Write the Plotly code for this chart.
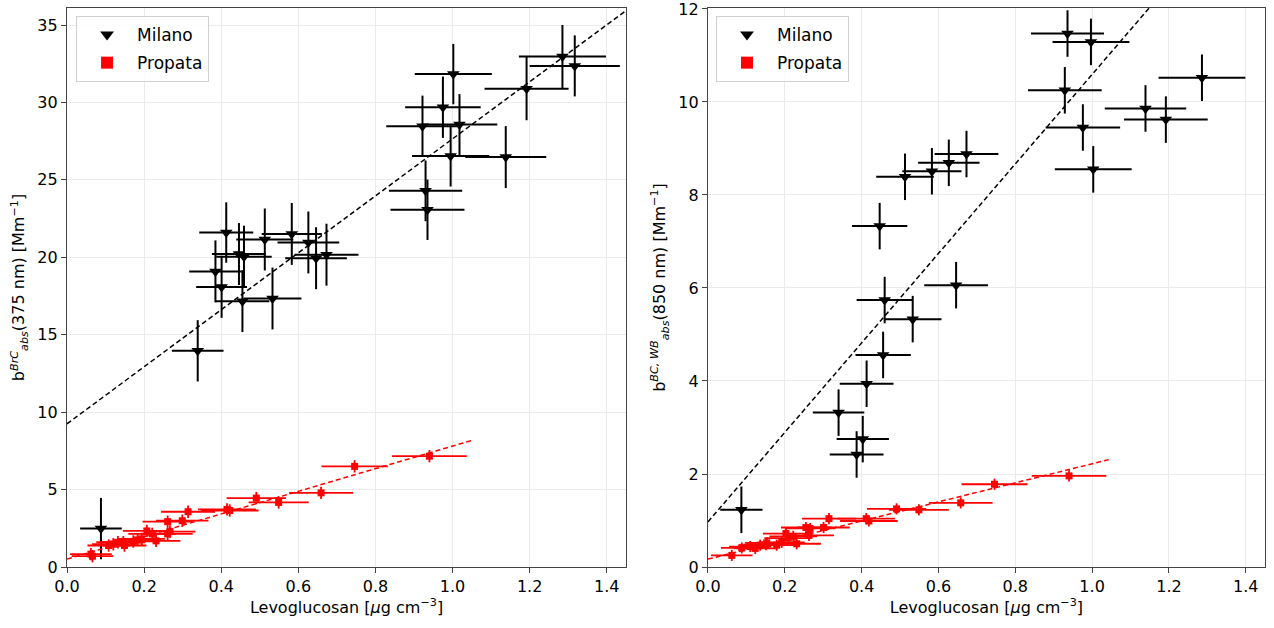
import numpy as np
import plotly.graph_objects as go

# ---------------- data: left panel (BrC 375 nm) ----------------
mil_L_x = [0.088, 0.339, 0.385, 0.401, 0.413, 0.446, 0.459, 0.455, 0.513, 0.533, 0.583, 0.626, 0.646,
           0.673, 0.922, 0.930, 0.935, 0.975, 0.995, 1.002, 1.018, 1.138, 1.192, 1.285, 1.317]
mil_L_y = [2.48, 13.96, 19.09, 18.09, 21.60, 20.21, 20.04, 17.17, 21.15, 17.34, 21.51, 20.96, 19.94,
           20.17, 28.46, 24.29, 23.07, 29.69, 26.54, 31.83, 28.57, 26.47, 30.89, 32.96, 32.36]
mil_L_xerr = [0.054, 0.067, 0.068, 0.066, 0.070, 0.070, 0.072, 0.070, 0.074, 0.075, 0.078, 0.080, 0.080,
              0.083, 0.094, 0.095, 0.096, 0.098, 0.100, 0.100, 0.098, 0.105, 0.109, 0.113, 0.117]
mil_L_yerr = [1.98, 1.98, 2.00, 2.00, 1.95, 2.00, 2.00, 2.00, 2.00, 2.00, 2.00, 2.00, 2.00,
              2.00, 1.98, 1.96, 1.95, 1.98, 1.97, 1.95, 1.97, 2.00, 2.04, 2.04, 1.97]

pro_L_x = [0.062, 0.066, 0.108, 0.120, 0.132, 0.146, 0.149, 0.172, 0.183, 0.194, 0.207, 0.221, 0.231,
           0.261, 0.261, 0.267, 0.299, 0.314, 0.415, 0.422, 0.491, 0.549, 0.659, 0.746, 0.940]
pro_L_y = [0.83, 0.70, 1.39, 1.47, 1.60, 1.60, 1.39, 1.65, 1.75, 1.82, 2.33, 2.14, 1.69,
           2.93, 2.14, 2.29, 2.99, 3.57, 3.72, 3.65, 4.45, 4.17, 4.79, 6.50, 7.16]
pro_L_xerr = [0.054, 0.054, 0.055, 0.055, 0.056, 0.057, 0.057, 0.060, 0.060, 0.060, 0.062, 0.062, 0.063,
              0.065, 0.065, 0.066, 0.068, 0.070, 0.075, 0.075, 0.077, 0.078, 0.083, 0.086, 0.097]
pro_L_yerr = [0.40] * 25

# ---------------- data: right panel (BC,WB 850 nm) ----------------
mil_R_x = [0.087, 0.340, 0.387, 0.403, 0.413, 0.447, 0.456, 0.460, 0.513, 0.533, 0.583, 0.627, 0.646,
           0.673, 0.929, 0.936, 0.976, 0.997, 1.003, 1.139, 1.192, 1.286]
mil_R_y = [1.23, 3.32, 2.42, 2.75, 3.94, 7.33, 4.56, 5.74, 8.39, 5.33, 8.51, 8.69, 6.06,
           8.88, 10.25, 11.47, 9.45, 11.29, 8.55, 9.86, 9.62, 10.52]
mil_R_xerr = [0.055, 0.067, 0.070, 0.068, 0.070, 0.072, 0.072, 0.073, 0.075, 0.075, 0.077, 0.080, 0.083,
              0.083, 0.096, 0.095, 0.097, 0.100, 0.100, 0.106, 0.109, 0.113]
mil_R_yerr = [0.50] * 22

pro_R_x = [0.062, 0.088, 0.110, 0.123, 0.136, 0.151, 0.153, 0.179, 0.192, 0.203, 0.209, 0.222, 0.231,
           0.255, 0.263, 0.266, 0.301, 0.315, 0.412, 0.419, 0.491, 0.549, 0.658, 0.746, 0.940]
pro_R_y = [0.25, 0.41, 0.44, 0.40, 0.47, 0.48, 0.52, 0.47, 0.53, 0.72, 0.62, 0.66, 0.50,
           0.85, 0.68, 0.83, 0.85, 1.04, 1.04, 0.99, 1.25, 1.23, 1.38, 1.78, 1.96]
pro_R_xerr = [0.054, 0.054, 0.055, 0.055, 0.056, 0.057, 0.057, 0.060, 0.060, 0.060, 0.062, 0.062, 0.063,
              0.065, 0.065, 0.066, 0.068, 0.070, 0.075, 0.075, 0.077, 0.078, 0.083, 0.086, 0.097]
pro_R_yerr = [0.12] * 25

# linear fits (intercept, slope, x extent)
fit_mil_L = (9.25, 18.4, 1.45)
fit_pro_L = (0.51, 7.3, 1.05)
fit_mil_R = (0.97, 9.62, 1.45)
fit_pro_R = (0.17, 2.05, 1.05)

x_ticks = [0.0, 0.2, 0.4, 0.6, 0.8, 1.0, 1.2, 1.4]
yL_ticks = [0, 5, 10, 15, 20, 25, 30, 35]
yR_ticks = [0, 2, 4, 6, 8, 10, 12]

FONT = "DejaVu Sans"
fig = go.Figure()


def add_panel(xa, ya, legend, tag, mx, my, mxe, mye, px, py, pxe, pye, fm, fp):
    fig.add_trace(go.Scatter(
        x=mx, y=my, mode="markers", name="Milano", xaxis=xa, yaxis=ya, legend=legend,
        legendgroup="mil" + tag,
        marker=dict(symbol="triangle-down", size=11, color="black"),
        error_x=dict(type="data", array=mxe, color="black", thickness=2, width=0),
        error_y=dict(type="data", array=mye, color="black", thickness=2, width=0)))
    fig.add_trace(go.Scatter(
        x=px, y=py, mode="markers", name="Propata", xaxis=xa, yaxis=ya, legend=legend,
        legendgroup="pro" + tag,
        marker=dict(symbol="square", size=7, color="red"),
        error_x=dict(type="data", array=pxe, color="red", thickness=1.8, width=0),
        error_y=dict(type="data", array=pye, color="red", thickness=1.8, width=0)))
    for (b, a, xe), col in ((fm, "black"), (fp, "red")):
        xs = np.array([0.0, xe])
        fig.add_trace(go.Scatter(
            x=xs, y=b + a * xs, mode="lines", showlegend=False, xaxis=xa, yaxis=ya,
            line=dict(color=col, width=1.5, dash="5px,3px")))


add_panel("x", "y", "legend", "L", mil_L_x, mil_L_y, mil_L_xerr, mil_L_yerr,
          pro_L_x, pro_L_y, pro_L_xerr, pro_L_yerr, fit_mil_L, fit_pro_L)
add_panel("x2", "y2", "legend2", "R", mil_R_x, mil_R_y, mil_R_xerr, mil_R_yerr,
          pro_R_x, pro_R_y, pro_R_xerr, pro_R_yerr, fit_mil_R, fit_pro_R)

axis_common = dict(showline=True, linecolor="#444", linewidth=1.2, mirror=True,
                   ticks="outside", ticklen=5, tickcolor="#444",
                   showgrid=True, gridcolor="#ebebeb", gridwidth=1, zeroline=False,
                   tickfont=dict(family=FONT, size=16, color="black"), automargin=False,
                   ticklabeloverflow="allow")

xtitle = "Levoglucosan [<i>μ</i>g cm<sup>−3</sup>]"
YDOM = [0.0971, 0.9873]
legend_common = dict(y=0.9745, xanchor="left", yanchor="top", bgcolor="rgba(255,255,255,0.85)",
                     bordercolor="#d0d0d0", borderwidth=1, font=dict(family=FONT, size=17),
                     itemsizing="constant", itemwidth=50, tracegroupgap=3)
fig.update_layout(
    width=1274, height=628, margin=dict(l=0, r=0, t=0, b=0),
    paper_bgcolor="white", plot_bgcolor="white",
    font=dict(family=FONT, size=16, color="black"),
    xaxis=dict(domain=[0.0526, 0.4914], range=[0, 1.45], tickvals=x_ticks, tickformat=".1f",
               title=dict(text=xtitle, font=dict(size=16), standoff=6), anchor="y", **axis_common),
    yaxis=dict(domain=YDOM, range=[0, 36.1], tickvals=yL_ticks,
               title=dict(text="b<sup><i>BrC</i></sup><sub><i>abs</i></sub>(375 nm) [Mm<sup>−1</sup>]",
                          font=dict(size=16), standoff=8), anchor="x", **axis_common),
    xaxis2=dict(domain=[0.5557, 0.9929], range=[0, 1.45], tickvals=x_ticks, tickformat=".1f",
                title=dict(text=xtitle, font=dict(size=16), standoff=6), anchor="y2", **axis_common),
    yaxis2=dict(domain=YDOM, range=[0, 12.02], tickvals=yR_ticks,
                title=dict(text="b<sup><i>BC, WB</i></sup><sub><i>abs</i></sub>(850 nm) [Mm<sup>−1</sup>]",
                           font=dict(size=16), standoff=8), anchor="x2", **axis_common),
    legend=dict(x=0.0597, **legend_common),
    legend2=dict(x=0.562, **legend_common),
)

fig.write_html("out.html", config={"displayModeBar": False},
               post_script="document.body.style.margin='0';")
